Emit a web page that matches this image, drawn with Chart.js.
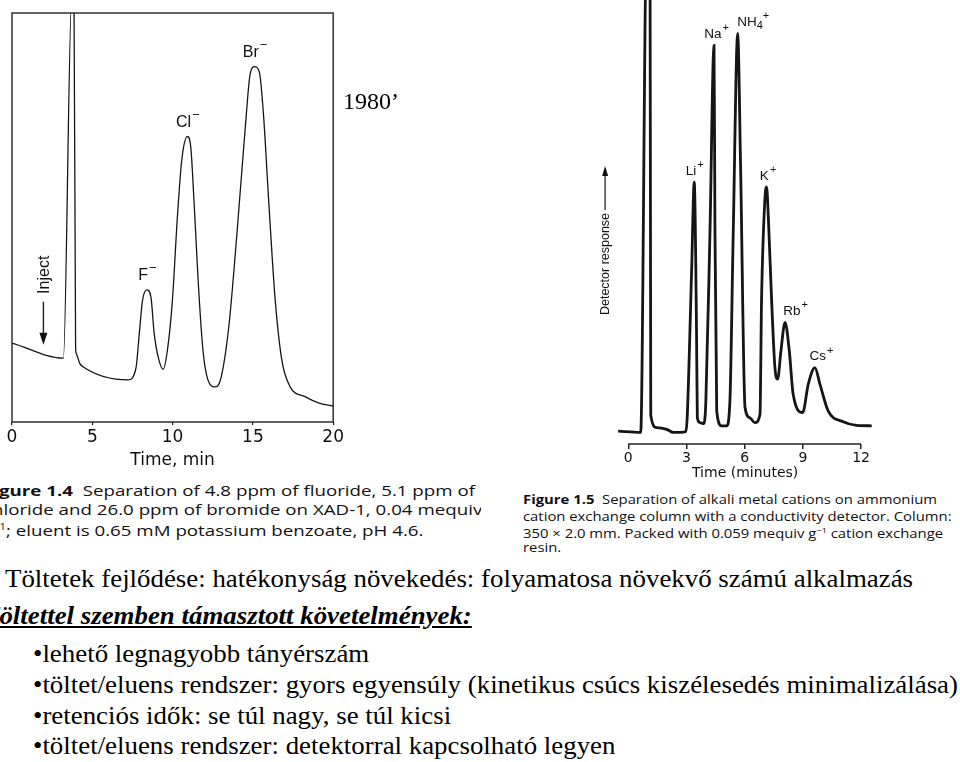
<!DOCTYPE html>
<html>
<head>
<meta charset="utf-8">
<script src="https://cdn.jsdelivr.net/npm/chart.js@4.4.1/dist/chart.umd.min.js"></script>
<style>
body { margin: 0; width: 960px; height: 762px; overflow: hidden; background: #fff; position: relative; }
canvas { position: absolute; }
.abs { position: absolute; white-space: nowrap; }
.serif { font-family: 'Liberation Serif', 'Times New Roman', serif; font-size: 26px; line-height: 1; color: #000; }
.cap { font-family: 'Open Sans', sans-serif; line-height: 1; color: #111; }
.line { position: absolute; left: 0; white-space: nowrap; display: inline-block; transform-origin: 0 50%; }
</style>
</head>
<body>

<canvas id="anion" width="346" height="480" style="left:0;top:0"></canvas>
<canvas id="cation" width="375" height="490" style="left:585px;top:0"></canvas>

<div class="abs serif" style="left:343px;top:89px;font-size:24px">1980’</div>

<!-- Figure 1.4 caption, cropped at the left like the scan -->
<div class="abs cap" style="left:0;top:483px;width:481px;height:60px;overflow:hidden;font-size:15px">
  <div id="cap14" style="position:absolute;left:-17px;top:0;transform-origin:0 0">
    <div class="line" id="cap14a" style="top:0"><b>Figure 1.4</b>&nbsp; Separation of 4.8 ppm of fluoride, 5.1 ppm of</div>
    <div class="line" style="top:19px">chloride and 26.0 ppm of bromide on XAD-1, 0.04 mequiv</div>
    <div class="line" style="top:39px">g<sup style="font-size:9px">−1</sup>; eluent is 0.65 mM potassium benzoate, pH 4.6.</div>
  </div>
</div>

<!-- Figure 1.5 caption -->
<div class="abs cap" style="left:523px;top:493px;font-size:13px">
  <div id="cap15" style="position:absolute;left:0;top:0;transform-origin:0 0">
    <div class="line" id="cap15a" style="top:0"><b>Figure 1.5</b>&nbsp; Separation of alkali metal cations on ammonium</div>
    <div class="line" style="top:17px">cation exchange column with a conductivity detector. Column:</div>
    <div class="line" style="top:33px">350 × 2.0 mm. Packed with 0.059 mequiv g<sup style="font-size:8px">−1</sup> cation exchange</div>
    <div class="line" style="top:48px">resin.</div>
  </div>
</div>

<div class="abs serif tline" style="left:5px;top:566px">Töltetek fejlődése: hatékonyság növekedés: folyamatosa növekvő számú alkalmazás</div>
<div class="abs serif tline" style="left:-17px;top:603px;font-weight:bold;font-style:italic;text-decoration:underline">Töltettel szemben támasztott követelmények:</div>
<div class="abs serif tline" style="left:33px;top:641px">•lehető legnagyobb tányérszám</div>
<div class="abs serif tline" id="longLine" style="left:33px;top:672px">•töltet/eluens rendszer: gyors egyensúly (kinetikus csúcs kiszélesedés minimalizálása)</div>
<div class="abs serif tline" style="left:33px;top:703px">•retenciós idők: se túl nagy, se túl kicsi</div>
<div class="abs serif tline" style="left:33px;top:733px">•töltet/eluens rendszer: detektorral kapcsolható legyen</div>

<script>
// Figure 1.4 - anion separation (time in min, detector signal in % of plot height)
const leftTime = [0, 3.2, 3.72, 3.86, 3.96, 4.0, 4.21, 4.42, 7.24, 7.72, 7.93, 8.13, 8.4, 8.65, 8.85, 9.12, 9.41, 9.68, 9.99, 10.3, 10.57, 10.92, 11.13, 11.33, 11.6, 11.89, 12.2, 12.63, 12.98, 13.5, 14.01, 14.53, 14.84, 15.11, 15.4, 15.67, 15.98, 16.39, 16.8, 17.32, 18.25, 19.07, 20];
const leftSignal = [19.3, 15.6, 104, 104, 18.3, 16.8, 14.4, 13.5, 10.3, 13.2, 21.8, 29.8, 32.3, 30.6, 21.8, 15.6, 12.9, 17.6, 29.8, 50.2, 64, 69.8, 67.3, 54.3, 34, 17.6, 10.3, 8.6, 10.3, 23.3, 46.2, 72.2, 85.3, 86.9, 85.6, 74.6, 54.3, 29.8, 15.2, 8.6, 6.2, 4.7, 3.9];
const leftTicks = [0, 5, 10, 15, 20];
const leftIons = ['F', 'Cl', 'Br'];
const leftPeakTimes = [8.4, 10.92, 15.11];

// Figure 1.5 - alkali metal cations
const rightTime = [-0.52, 0.64, 0.95, 1.12, 1.16, 1.46, 1.98, 2.32, 2.97, 3.04, 3.27, 3.4, 3.52, 3.56, 3.7, 3.9, 4.0, 4.21, 4.42, 4.47, 4.56, 4.81, 5.07, 5.24, 5.41, 5.64, 5.79, 6.02, 6.27, 6.53, 6.79, 6.87, 7.04, 7.13, 7.22, 7.39, 7.56, 7.7, 7.87, 8.08, 8.3, 8.5, 8.99, 9.28, 9.62, 9.88, 10.31, 11.08, 11.77, 12.55];
const rightSignal = [2.9, 2.6, 115, 115, 6.5, 3.7, 3.3, 2.6, 2.8, 6.2, 39.8, 59, 24.8, 5.9, 4.8, 4.6, 9.7, 47.4, 89.8, 47.4, 7.4, 4.1, 4.1, 9.7, 47.4, 92.5, 62.4, 8.2, 5.9, 4.8, 6.7, 32.3, 54.9, 57.9, 51.1, 32.3, 17.2, 14.6, 21, 27.4, 21, 11.2, 7.1, 13.5, 17.2, 13.5, 7.4, 5.0, 4.2, 4.1];
const rightTicks = [0, 3, 6, 9, 12];
const rightIons = [['Li', ''], ['Na', ''], ['NH', '4'], ['K', ''], ['Rb', ''], ['Cs', '']];
const rightPeakTimes = [3.4, 4.42, 5.64, 7.13, 8.08, 9.62];
const rightLabelNudge = [0, 2, 15, 1, 10, 6];

function toPoints(xs, ys) {
    return xs.map((t, i) => ({ x: t, y: ys[i] }));
}

// ion name with optional subscript and a superscript charge
function drawIon(ctx, base, sub, sup, cx, cy, size) {
    const small = Math.round(size * 0.8);
    const face = "px 'Liberation Sans', Arial, sans-serif";
    ctx.font = size + face;
    const wb = ctx.measureText(base).width;
    ctx.font = small + face;
    const wsub = sub ? ctx.measureText(sub).width * 0.8 : 0;
    const wsup = ctx.measureText(sup).width;
    const x0 = cx - (wb + wsub + wsup) / 2;
    ctx.textAlign = 'left';
    ctx.textBaseline = 'middle';
    ctx.font = size + face;
    ctx.fillText(base, x0, cy);
    ctx.font = small + face;
    if (sub) ctx.fillText(sub, x0 + wb, cy + size * 0.3);
    ctx.fillText(sup, x0 + wb + wsub + 1, cy - size * 0.45);
}

const anionDecor = {
    id: 'anionDecor',
    afterDraw(chart) {
        const { ctx, chartArea: a, scales: { x, y } } = chart;
        ctx.save();
        ctx.strokeStyle = '#222';
        ctx.lineWidth = 1.4;
        ctx.strokeRect(a.left, a.top, a.right - a.left, a.bottom - a.top);
        ctx.fillStyle = '#111';
        leftIons.forEach((ion, i) => {
            const t = leftPeakTimes[i];
            const v = leftSignal[leftTime.indexOf(t)];
            drawIon(ctx, ion, '', '−', x.getPixelForValue(t), y.getPixelForValue(v) - 14, 16);
        });
        // "Inject" marker with arrow
        const ix = x.getPixelForValue(2.05);
        const iy = y.getPixelForValue(36);
        ctx.save();
        ctx.translate(ix, iy);
        ctx.rotate(-Math.PI / 2);
        ctx.font = "16px 'Liberation Sans', Arial, sans-serif";
        ctx.textAlign = 'center';
        ctx.textBaseline = 'middle';
        ctx.fillText('Inject', 0, 0);
        ctx.restore();
        ctx.lineWidth = 1.4;
        ctx.beginPath();
        ctx.moveTo(ix - 1.5, iy + 27);
        ctx.lineTo(ix - 1.5, iy + 66);
        ctx.stroke();
        ctx.beginPath();
        ctx.moveTo(ix - 1.5, iy + 70);
        ctx.lineTo(ix - 5.5, iy + 58);
        ctx.lineTo(ix + 2.5, iy + 58);
        ctx.closePath();
        ctx.fill();
        ctx.restore();
    }
};

const cationDecor = {
    id: 'cationDecor',
    afterDraw(chart) {
        const { ctx, chartArea: a, scales: { x, y } } = chart;
        ctx.save();
        ctx.strokeStyle = '#222';
        ctx.fillStyle = '#111';
        ctx.lineWidth = 1.6;
        ctx.beginPath();
        ctx.moveTo(x.getPixelForValue(rightTicks[0]), a.bottom);
        ctx.lineTo(x.getPixelForValue(rightTicks[rightTicks.length - 1]), a.bottom);
        ctx.stroke();
        rightIons.forEach((ion, i) => {
            const t = rightPeakTimes[i];
            const v = rightSignal[rightTime.indexOf(t)];
            drawIon(ctx, ion[0], ion[1], '+', x.getPixelForValue(t) + rightLabelNudge[i], y.getPixelForValue(v) - 11, 13.5);
        });
        // y axis caption with upward arrow
        const tx = a.left - 12.5;
        ctx.save();
        ctx.translate(tx, 264);
        ctx.rotate(-Math.PI / 2);
        ctx.font = "12.5px 'Liberation Sans', Arial, sans-serif";
        ctx.textAlign = 'center';
        ctx.textBaseline = 'middle';
        ctx.fillText('Detector response', 0, 0);
        ctx.restore();
        ctx.lineWidth = 1.3;
        ctx.beginPath();
        ctx.moveTo(tx, 210);
        ctx.lineTo(tx, 174);
        ctx.stroke();
        ctx.beginPath();
        ctx.moveTo(tx, 166);
        ctx.lineTo(tx - 3, 176);
        ctx.lineTo(tx + 3, 176);
        ctx.closePath();
        ctx.fill();
        ctx.restore();
    }
};

new Chart(document.getElementById('anion'), {
    type: 'line',
    data: {
        datasets: [{
            data: toPoints(leftTime, leftSignal),
            borderColor: '#151515',
            borderWidth: 1.3,
            pointRadius: 0,
            cubicInterpolationMode: 'monotone',
            fill: false
        }]
    },
    options: {
        responsive: false,
        animation: false,
        events: [],
        layout: { padding: { left: 12, top: 13, right: 11, bottom: 0 } },
        plugins: { legend: { display: false }, tooltip: { enabled: false } },
        scales: {
            x: {
                type: 'linear', min: 0, max: 20,
                afterBuildTicks: s => { s.ticks = leftTicks.map(v => ({ value: v })); },
                afterFit: s => { s.height = 58; },
                border: { display: false },
                grid: { drawOnChartArea: false, drawTicks: true, tickLength: 3, color: '#222', lineWidth: 1.2 },
                ticks: { color: '#111', padding: 2, maxRotation: 0, font: { family: "'DejaVu Sans', sans-serif", size: 17 } },
                title: { display: true, text: 'Time, min', color: '#111', padding: { top: 0, bottom: 9 }, font: { family: "'DejaVu Sans', sans-serif", size: 17 } }
            },
            y: { display: false, min: 0, max: 100 }
        }
    },
    plugins: [anionDecor]
});

new Chart(document.getElementById('cation'), {
    type: 'line',
    data: {
        datasets: [{
            data: toPoints(rightTime, rightSignal),
            borderColor: '#151515',
            borderWidth: 2.8,
            pointRadius: 0,
            cubicInterpolationMode: 'monotone',
            fill: false
        }]
    },
    options: {
        responsive: false,
        animation: false,
        events: [],
        layout: { padding: { left: 32.6, top: 0, right: 87.3, bottom: 0 } },
        plugins: { legend: { display: false }, tooltip: { enabled: false } },
        scales: {
            x: {
                type: 'linear', min: -0.55, max: 12.6,
                afterBuildTicks: s => { s.ticks = rightTicks.map(v => ({ value: v })); },
                afterFit: s => { s.height = 46; },
                border: { display: false },
                grid: { drawOnChartArea: false, drawTicks: true, tickLength: 5, color: '#222', lineWidth: 1.5 },
                ticks: { color: '#111', padding: 1, maxRotation: 0, font: { family: "'DejaVu Sans', sans-serif", size: 14 } },
                title: { display: true, text: 'Time (minutes)', color: '#111', padding: { top: 0, bottom: 8 }, font: { family: "'DejaVu Sans', sans-serif", size: 14 } }
            },
            y: { display: false, min: 0, max: 100 }
        }
    },
    plugins: [cationDecor]
});

// stretch the text lines to the widths measured on the slide
function fitBlock(block, line, target) {
    const w = line.getBoundingClientRect().width;
    block.style.transform = 'scaleX(' + (target / w).toFixed(4) + ')';
}
fitBlock(document.getElementById('cap14'), document.getElementById('cap14a'), 492);
fitBlock(document.getElementById('cap15'), document.getElementById('cap15a'), 414);
const longW = document.getElementById('longLine').getBoundingClientRect().width;
const k = 925 / longW;
document.querySelectorAll('.tline').forEach(el => {
    el.style.transformOrigin = '0 50%';
    el.style.transform = 'scaleX(' + k.toFixed(4) + ')';
});
</script>
</body>
</html>
